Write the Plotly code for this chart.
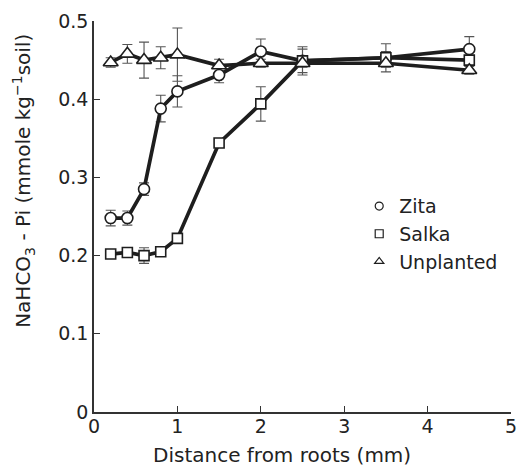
import plotly.graph_objects as go

distance = [0.2, 0.4, 0.6, 0.8, 1.0, 1.5, 2.0, 2.5, 3.5, 4.5]

zita = [0.248, 0.248, 0.285, 0.388, 0.410, 0.431, 0.461, 0.449, 0.453, 0.464]
zita_err = [0.010, 0.009, 0.008, 0.017, 0.020, 0.010, 0.016, 0.018, 0.018, 0.016]

salka = [0.202, 0.204, 0.200, 0.205, 0.222, 0.344, 0.394, 0.449, 0.453, 0.450]
salka_err = [0.004, 0.004, 0.010, 0.004, 0.004, 0.004, 0.022, 0.015, 0.008, 0.006]

unplanted = [0.447, 0.458, 0.450, 0.453, 0.457, 0.443, 0.446, 0.446, 0.446, 0.437]
unplanted_err = [0.006, 0.012, 0.023, 0.014, 0.034, 0.008, 0.005, 0.005, 0.005, 0.005]

x_ticks = [0, 1, 2, 3, 4, 5]
y_ticks = [0, 0.1, 0.2, 0.3, 0.4, 0.5]
y_ticklabels = ["0", "0.1", "0.2", "0.3", "0.4", "0.5"]

x_title = "Distance from roots (mm)"
y_title = "NaHCO<sub>3</sub> - Pi (mmole kg<sup>−1</sup>soil)"

series = [
    ("Zita", zita, zita_err, "circle", 11),
    ("Salka", salka, salka_err, "square", 10),
    ("Unplanted", unplanted, unplanted_err, "triangle-up", 13),
]

INK = "#1e1e1e"
FONT = "DejaVu Sans, Liberation Sans, Arial, sans-serif"
fig = go.Figure()

for name, ys, errs, sym, sz in series:
    fig.add_trace(go.Scatter(
        x=distance, y=ys, mode="lines",
        line=dict(color=INK, width=3.7),
        error_y=dict(type="data", array=errs, visible=True, color="#555555",
                     thickness=1.1, width=5),
        showlegend=False, hoverinfo="skip",
    ))

for name, ys, errs, sym, sz in series:
    fig.add_trace(go.Scatter(
        x=distance, y=ys, mode="markers",
        marker=dict(symbol=sym, size=sz, color="white",
                    line=dict(color=INK, width=1.6)),
        showlegend=False,
    ))

for name, ys, errs, sym, sz in series:
    fig.add_trace(go.Scatter(
        x=[None], y=[None], mode="markers", name=name,
        marker=dict(symbol=sym, size=8, color="white",
                    line=dict(color=INK, width=1.2)),
    ))

axis_font = dict(family=FONT, size=19, color="#222222")
title_font = dict(family=FONT, size=20, color="#222222")

fig.update_layout(
    width=527, height=468,
    margin=dict(l=94, r=10, t=21, b=56),
    paper_bgcolor="white", plot_bgcolor="white",
    font=axis_font,
    showlegend=True,
    legend=dict(x=0.636, y=0.575, xanchor="left", yanchor="top",
                bgcolor="rgba(0,0,0,0)", font=dict(family=FONT, size=19, color="#222222"),
                itemwidth=30),
    xaxis=dict(range=[0, 5], tickvals=x_ticks, ticks="inside",
               ticklen=6, tickwidth=1.2, tickcolor="#333333",
               showline=True, linecolor="#333333", linewidth=1.5,
               showgrid=False, zeroline=False, tickfont=axis_font,
               ticklabelstandoff=-4),
    yaxis=dict(range=[0, 0.5], tickvals=y_ticks, ticktext=y_ticklabels,
               ticks="inside", ticklen=6, tickwidth=1.2, tickcolor="#333333",
               showline=True, linecolor="#333333", linewidth=1.5,
               showgrid=False, zeroline=False, tickfont=axis_font),
    annotations=[
        dict(text=x_title, xref="paper", yref="paper", x=0.4515, y=-0.110,
             xanchor="center", yanchor="middle", showarrow=False, font=title_font),
        dict(text=y_title, xref="paper", yref="paper", x=-0.168, y=0.591,
             xanchor="center", yanchor="middle", textangle=-90, showarrow=False,
             font=title_font),
    ],
)

fig.write_html("out.html")
